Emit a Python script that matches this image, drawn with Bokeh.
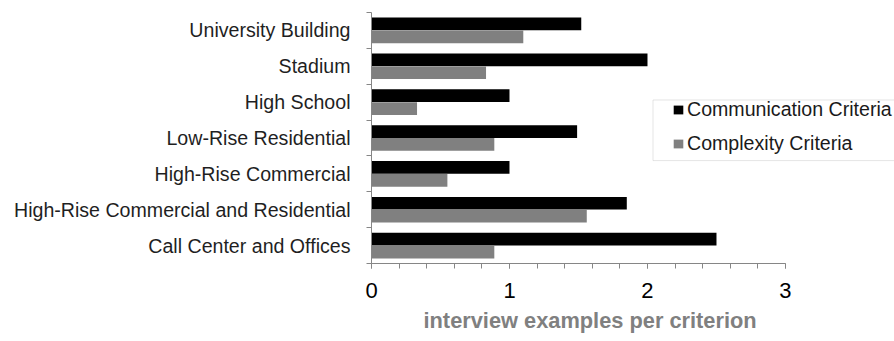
from bokeh.plotting import figure
from bokeh.models import (Range1d, FixedTicker, Legend, LegendItem,
                          ColumnDataSource, Title, BoxAnnotation)
from bokeh.embed import file_html
from bokeh.resources import INLINE

# Building types, listed from the bottom of the chart to the top
categories = [
    "Call Center and Offices",
    "High-Rise Commercial and Residential",
    "High-Rise Commercial",
    "Low-Rise Residential",
    "High School",
    "Stadium",
    "University Building",
]
communication = [2.50, 1.85, 1.00, 1.49, 1.00, 2.00, 1.52]
complexity = [0.89, 1.56, 0.55, 0.89, 0.33, 0.83, 1.10]
x_ticks = [0, 1, 2, 3]
x_title = "interview examples per criterion"
series_names = ["Communication Criteria", "Complexity Criteria"]

FONT = "Liberation Sans"
BAR_H = 0.355
OFFSET = 0.18

centers = [i + 0.5 for i in range(len(categories))]
src = ColumnDataSource(dict(
    cat=categories,
    comm=communication,
    cplx=complexity,
    y_comm=[c + OFFSET for c in centers],
    y_cplx=[c - OFFSET for c in centers],
))

p = figure(width=894, height=341,
           x_range=Range1d(0, 3.79), y_range=Range1d(0, len(categories)),
           output_backend="svg", toolbar_location=None,
           min_border_left=371, min_border_right=0,
           min_border_top=12, min_border_bottom=78)
p.outline_line_color = None
p.grid.visible = False
p.background_fill_color = "white"
p.border_fill_color = "white"

r_comm = p.hbar(y="y_comm", left=0, right="comm", height=BAR_H, source=src,
                fill_color="#000000", line_color=None)
r_cplx = p.hbar(y="y_cplx", left=0, right="cplx", height=BAR_H, source=src,
                fill_color="#808080", line_color=None)

# x axis: ends at 3, minor ticks every 0.2
xa = p.xaxis[0]
xa.bounds = (0, 3)
xa.ticker = FixedTicker(ticks=x_ticks,
                        minor_ticks=[round(i * 0.2, 1) for i in range(16)])
xa.axis_line_color = "#868686"
xa.major_tick_line_color = "#868686"
xa.minor_tick_line_color = "#868686"
xa.major_tick_out = 5
xa.major_tick_in = 0
xa.minor_tick_out = 5
xa.minor_tick_in = 0
xa.major_label_standoff = 14
xa.major_label_text_font = FONT
xa.major_label_text_font_size = "22px"
xa.major_label_text_color = "#000000"

# y axis: labels at category centres, tick marks at category boundaries
ya = p.yaxis[0]
ya.ticker = FixedTicker(ticks=centers,
                        minor_ticks=list(range(len(categories) + 1)))
ya.major_label_overrides = {c: name for c, name in zip(centers, categories)}
ya.axis_line_color = "#868686"
ya.major_tick_line_color = None
ya.major_tick_out = 0
ya.major_tick_in = 0
ya.minor_tick_line_color = "#868686"
ya.minor_tick_out = 5
ya.minor_tick_in = 0
ya.major_label_standoff = 16
ya.major_label_text_font = FONT
ya.major_label_text_font_size = "19.6px"
ya.major_label_text_color = "#1f1f1f"

p.add_layout(Title(text=x_title, align="left", offset=52, standoff=10,
                   text_font=FONT, text_font_size="21.8px",
                   text_font_style="bold", text_color="#808080"), "below")

# legend frame, then the entries themselves
p.add_layout(BoxAnnotation(left=2.04, right=4.0, bottom=2.87, top=4.56,
                           fill_alpha=0, line_color="#a6a6a6", line_width=1))
legend = Legend(items=[LegendItem(label=series_names[0], renderers=[r_comm]),
                       LegendItem(label=series_names[1], renderers=[r_cplx])],
                location=(301, 108), padding=0, margin=0, spacing=11,
                label_height=20, glyph_width=12, glyph_height=11,
                label_standoff=3, border_line_color=None,
                background_fill_alpha=0,
                label_text_font=FONT, label_text_font_size="19.6px",
                label_text_color="#1a1a1a")
p.add_layout(legend)

open("out.html", "w").write(file_html(p, INLINE))
